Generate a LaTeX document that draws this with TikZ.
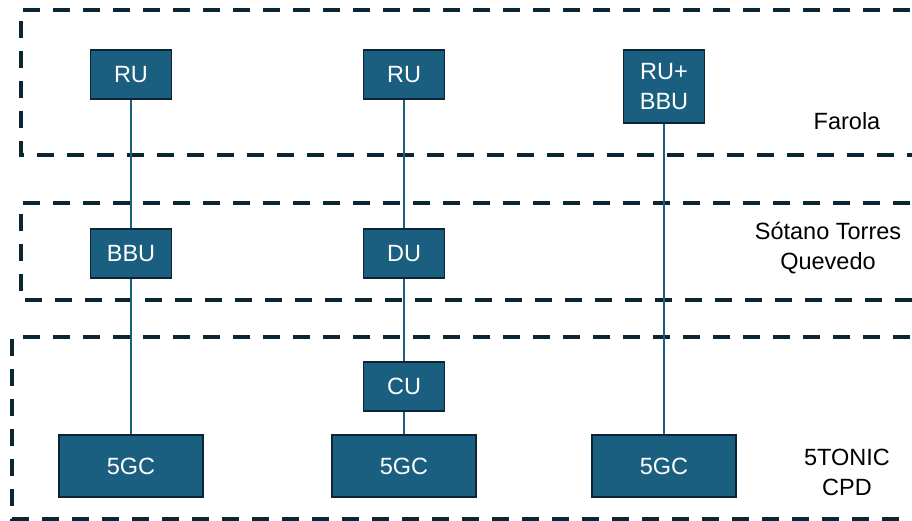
\documentclass[tikz,border=0pt]{standalone}
\usepackage{fontspec}
\setmainfont{Liberation Sans}
\definecolor{boxblue}{HTML}{1A5E80}
\definecolor{navy}{HTML}{0B2535}
\begin{document}
\begin{tikzpicture}[x=1pt,y=-1pt,every node/.style={font=\fontsize{23.5}{30}\selectfont},
  unit/.style={draw=navy,line width=1.5pt,fill=boxblue,text=white,align=center,minimum width=81pt,minimum height=49pt,inner sep=2pt},
  core/.style={unit,minimum width=144pt,minimum height=62pt},
  zone/.style={draw=navy,line width=4pt,dash pattern=on 17pt off 13pt},
  link/.style={draw=boxblue,line width=1.6pt},
  zonelabel/.style={align=center,text=black}]
\useasboundingbox (0,0) rectangle (912,521);
% zones
\draw[zone] (940,10) -- (21,10) -- (21,155) -- (940,155);
\draw[zone] (940,203) -- (21,203) -- (21,300) -- (940,300);
\draw[zone] (940,337) -- (12,337) -- (12,519) -- (940,519);
\node[zonelabel] (farola) at (847,121) {Farola};
\node[zonelabel] (sotano) at (828,248) {Sótano Torres\\Quevedo};
\node[zonelabel] (tonic) at (847,472) {5TONIC\\CPD};
% units
\node[unit] (ru1) at (131,74.5) {RU};
\node[unit] (ru2) at (404,74.5) {RU};
\node[unit,minimum height=73pt] (rubbu) at (664,86.5) {RU+\\BBU};
\node[unit] (bbu) at (131,253.5) {BBU};
\node[unit] (du) at (404,253.5) {DU};
\node[unit] (cu) at (404,386.5) {CU};
\node[core] (gc1) at (131,466) {5GC};
\node[core] (gc2) at (404,466) {5GC};
\node[core] (gc3) at (664,466) {5GC};
% links
\draw[link] (ru1) -- (bbu) -- (gc1);
\draw[link] (ru2) -- (du) -- (cu) -- (gc2);
\draw[link] (rubbu) -- (gc3);
\end{tikzpicture}
\end{document}
